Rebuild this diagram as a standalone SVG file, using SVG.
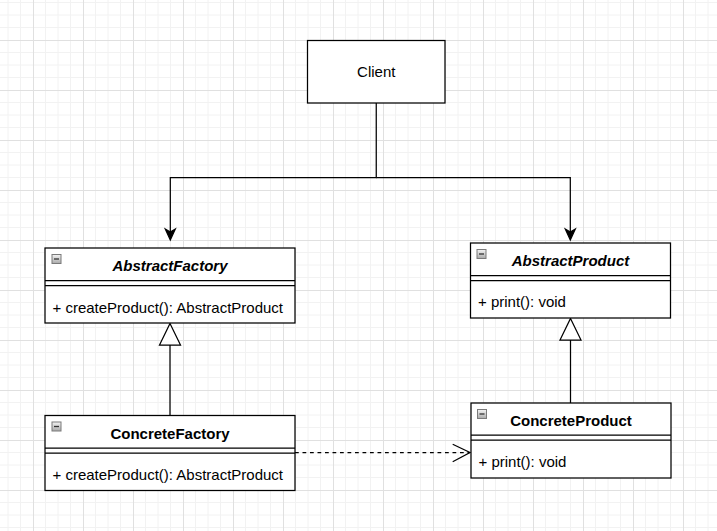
<svg xmlns="http://www.w3.org/2000/svg" width="717" height="531" viewBox="0 0 717 531">
  <defs>
    <pattern id="grid" x="33" y="40" width="50" height="50" patternUnits="userSpaceOnUse">
      <path d="M12.5 0V50M25 0V50M37.5 0V50M0 12.5H50M0 25H50M0 37.5H50" stroke="#f2f2f2" stroke-width="1" fill="none"/>
      <path d="M0.5 0V50M0 0.5H50" stroke="#e0e0e0" stroke-width="1" fill="none"/>
    </pattern>
    <linearGradient id="iconGrad" x1="0" y1="0" x2="0" y2="1">
      <stop offset="0" stop-color="#f4f4f4"/>
      <stop offset="1" stop-color="#a9a9a9"/>
    </linearGradient>
    <g id="collapse">
      <rect x="0.5" y="0.5" width="9" height="9" fill="url(#iconGrad)" stroke="#7a7a7a" stroke-width="1"/>
      <path d="M2.5 5H7.5" stroke="#333" stroke-width="1.3"/>
    </g>
  </defs>
  <style>
    .box { fill: #ffffff; stroke: #000000; stroke-width: 1.25; }
    .sep { stroke: #000000; stroke-width: 1.25; fill: none; }
    .title { font-family: "Liberation Sans", Arial, Helvetica, sans-serif; font-size: 15px; font-weight: bold; fill: #000; text-anchor: middle; }
    .abstract { font-style: italic; }
    .member { font-family: "Liberation Sans", Arial, Helvetica, sans-serif; font-size: 15px; fill: #000; }
    .plain { font-family: "Liberation Sans", Arial, Helvetica, sans-serif; font-size: 15px; fill: #000; text-anchor: middle; }
    .edge { stroke: #000000; stroke-width: 1.25; fill: none; }
    .head { fill: #000000; stroke: #000000; stroke-width: 1.25; }
    .hollow { fill: #ffffff; stroke: #000000; stroke-width: 1.25; }
  </style>

  <rect x="0" y="0" width="717" height="531" fill="#ffffff"/>
  <rect x="0" y="0" width="717" height="531" fill="url(#grid)"/>

  <g id="connectors">
    <!-- Client to AbstractFactory -->
    <path class="edge" d="M376.25 103V177.7H170.3V232"/>
    <path class="head" d="M170.3 240L165.3 229L170.3 232L175.3 229Z"/>
    <!-- Client to AbstractProduct -->
    <path class="edge" d="M376.25 177.7H570.3V232"/>
    <path class="head" d="M570.3 240L565.3 229L570.3 232L575.3 229Z"/>
    <!-- ConcreteFactory inherits AbstractFactory -->
    <path class="edge" d="M170 345V415.5"/>
    <path class="hollow" d="M170 323.5L180.5 345H159.5Z"/>
    <!-- ConcreteProduct inherits AbstractProduct -->
    <path class="edge" d="M570.5 340V403"/>
    <path class="hollow" d="M570.5 318.5L581 340H560Z"/>
    <!-- ConcreteFactory depends on ConcreteProduct -->
    <path class="edge" d="M295 452.5H469.5" stroke-dasharray="3.75 3.75"/>
    <path class="edge" d="M452.7 444.3L470 452.5L452.7 461.7"/>
  </g>

  <g id="client">
    <rect class="box" x="307.5" y="40.5" width="137.5" height="62.5"/>
    <text class="plain" x="376.25" y="76.5">Client</text>
  </g>

  <g id="abstract-factory">
    <rect class="box" x="45" y="248" width="250" height="75"/>
    <path class="sep" d="M45 280.5H295M45 285.5H295"/>
    <use href="#collapse" x="51.5" y="254"/>
    <text class="title abstract" x="170" y="271">AbstractFactory</text>
    <text class="member" x="52.5" y="312.5">+ createProduct(): AbstractProduct</text>
  </g>

  <g id="concrete-factory">
    <rect class="box" x="45" y="415.5" width="250" height="75"/>
    <path class="sep" d="M45 448H295M45 453H295"/>
    <use href="#collapse" x="51.5" y="421.5"/>
    <text class="title" x="170" y="438.5">ConcreteFactory</text>
    <text class="member" x="52.5" y="480">+ createProduct(): AbstractProduct</text>
  </g>

  <g id="abstract-product">
    <rect class="box" x="470.5" y="243" width="200" height="75"/>
    <path class="sep" d="M470.5 275.5H670.5M470.5 280.5H670.5"/>
    <use href="#collapse" x="476.5" y="249"/>
    <text class="title abstract" x="570.5" y="266">AbstractProduct</text>
    <text class="member" x="478" y="307">+ print(): void</text>
  </g>

  <g id="concrete-product">
    <rect class="box" x="471" y="403" width="200" height="75"/>
    <path class="sep" d="M471 435H671M471 440H671"/>
    <use href="#collapse" x="477" y="409"/>
    <text class="title" x="571" y="426">ConcreteProduct</text>
    <text class="member" x="478.5" y="467">+ print(): void</text>
  </g>
</svg>
